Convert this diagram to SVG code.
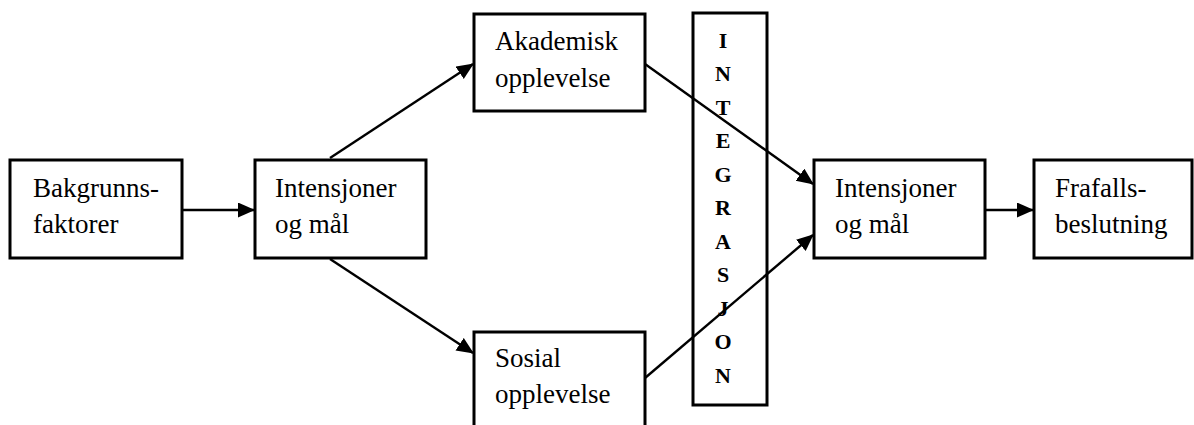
<svg xmlns="http://www.w3.org/2000/svg" width="1194" height="425" viewBox="0 0 1194 425">
<defs>
<style>
.box{fill:#fff;stroke:#000;stroke-width:3}
.t{font-family:"Liberation Serif","Times New Roman",serif;font-size:27px;fill:#000}
.v{font-family:"Liberation Serif","Times New Roman",serif;font-size:22px;font-weight:bold;fill:#000;text-anchor:middle}
.c{stroke:#000;stroke-width:2.4;fill:none;marker-end:url(#ah)}
</style>
<marker id="ah" markerUnits="userSpaceOnUse" markerWidth="18" markerHeight="16" refX="16" refY="7.5" orient="auto">
<path d="M0,0 L17,7.5 L0,15 Z" fill="#000"/>
</marker>
</defs>
<rect width="1194" height="425" fill="#fff"/>
<g id="connectors">
<line class="c" x1="182" y1="210" x2="254" y2="210"/>
<line class="c" x1="330" y1="158" x2="473" y2="64"/>
<line class="c" x1="330" y1="259" x2="473" y2="353"/>
<line class="c" x1="645" y1="64" x2="813" y2="184"/>
<line class="c" x1="645" y1="378" x2="813" y2="235"/>
<line class="c" x1="985" y1="210" x2="1033" y2="210"/>
</g>
<g id="bakgrunn">
<rect class="box" x="10" y="160" width="172" height="98"/>
<text class="t" x="33" y="197">Bakgrunns-</text>
<text class="t" x="33" y="233">faktorer</text>
</g>
<g id="intensjoner1">
<rect class="box" x="255" y="160" width="171" height="98"/>
<text class="t" x="275" y="197">Intensjoner</text>
<text class="t" x="275" y="233">og mål</text>
</g>
<g id="akademisk">
<rect class="box" x="474" y="14" width="171" height="97"/>
<text class="t" x="495" y="50">Akademisk</text>
<text class="t" x="495" y="87">opplevelse</text>
</g>
<g id="sosial">
<rect class="box" x="474" y="332" width="171" height="100"/>
<text class="t" x="495" y="367">Sosial</text>
<text class="t" x="495" y="403">opplevelse</text>
</g>
<g id="integrasjon">
<rect x="693" y="13" width="74" height="392" fill="none" stroke="#000" stroke-width="3"/>
<text class="v" x="723" y="48">I</text>
<text class="v" x="723" y="81">N</text>
<text class="v" x="723" y="115">T</text>
<text class="v" x="723" y="148">E</text>
<text class="v" x="723" y="182">G</text>
<text class="v" x="723" y="215">R</text>
<text class="v" x="723" y="249">A</text>
<text class="v" x="723" y="282">S</text>
<text class="v" x="723" y="316">J</text>
<text class="v" x="723" y="349">O</text>
<text class="v" x="723" y="383">N</text>
</g>
<g id="intensjoner2">
<rect class="box" x="814" y="160" width="171" height="98"/>
<text class="t" x="835" y="197">Intensjoner</text>
<text class="t" x="835" y="233">og mål</text>
</g>
<g id="frafall">
<rect class="box" x="1034" y="160" width="158" height="98"/>
<text class="t" x="1055" y="197">Frafalls-</text>
<text class="t" x="1055" y="233">beslutning</text>
</g>
</svg>
